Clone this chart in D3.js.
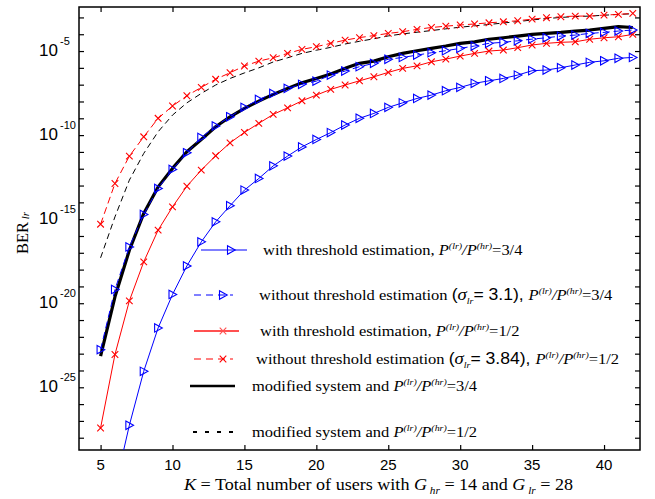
<!DOCTYPE html>
<html>
<head>
<meta charset="utf-8">
<script src="https://cdn.jsdelivr.net/npm/d3@7"></script>
<style>
  html, body { margin: 0; padding: 0; background: #fff; }
  svg { display: block; }
</style>
</head>
<body>
<svg id="chart" width="655" height="499"></svg>
<script>
// Number of users K (x-axis)
const users = d3.range(5, 43);

// log10(BER_lr) for each curve, one value per K = 5..42
const withThr34 = [-35.5, -31.0, -27.26, -24.05, -21.47, -19.48, -17.78, -16.35, -15.16, -14.2,
  -13.27, -12.58, -11.83, -11.25, -10.7, -10.26, -9.85, -9.4, -9.0, -8.71,
  -8.35, -8.08, -7.82, -7.62, -7.36, -7.16, -6.92, -6.77, -6.63, -6.43,
  -6.17, -6.13, -5.99, -5.83, -5.67, -5.58, -5.43, -5.38];
const withoutThr34 = [-22.76, -19.18, -16.65, -14.72, -13.17, -12.04, -11.05, -10.14, -9.46, -8.91,
  -8.35, -7.88, -7.52, -7.22, -6.98, -6.79, -6.43, -6.19, -5.93, -5.73,
  -5.49, -5.38, -5.24, -5.1, -4.98, -4.84, -4.7, -4.54, -4.48, -4.39,
  -4.29, -4.21, -4.11, -4.05, -3.95, -3.89, -3.81, -3.75];
const withThr12 = [-27.42, -23.05, -19.86, -17.54, -15.65, -14.27, -13.04, -12.08, -11.23, -10.46,
  -9.84, -9.3, -8.77, -8.38, -7.96, -7.62, -7.28, -7.02, -6.77, -6.53,
  -6.27, -6.03, -5.88, -5.64, -5.48, -5.3, -5.14, -5.0, -4.94, -4.8,
  -4.64, -4.54, -4.48, -4.45, -4.3, -4.21, -4.15, -4.01];
const withoutThr12 = [-15.3, -12.88, -11.25, -10.1, -9.0, -8.27, -7.66, -7.16, -6.68, -6.29,
  -5.89, -5.6, -5.4, -5.14, -4.9, -4.74, -4.54, -4.35, -4.2, -4.08,
  -3.95, -3.85, -3.71, -3.6, -3.52, -3.45, -3.39, -3.32, -3.26, -3.2,
  -3.1, -3.02, -2.96, -2.92, -2.92, -2.86, -2.82, -2.76];
const modified34 = [-23.15, -19.62, -16.85, -14.66, -13.08, -11.98, -10.99, -10.26, -9.5, -8.91,
  -8.41, -7.98, -7.58, -7.22, -6.89, -6.63, -6.37, -6.03, -5.73, -5.6,
  -5.34, -5.14, -4.98, -4.84, -4.7, -4.54, -4.45, -4.3, -4.21, -4.11,
  -4.01, -3.95, -3.89, -3.81, -3.75, -3.65, -3.55, -3.6];
const modified12 = [-17.3, -14.86, -12.68, -11.09, -9.8, -8.81, -8.08, -7.52, -7.02, -6.63,
  -6.3, -6.0, -5.65, -5.4, -5.14, -4.95, -4.78, -4.58, -4.42, -4.27,
  -4.1, -3.98, -3.88, -3.78, -3.68, -3.58, -3.5, -3.42, -3.33, -3.25,
  -3.15, -3.07, -3.0, -2.95, -2.92, -2.87, -2.82, -2.78];

// Axis ticks
const xTicks = [5, 10, 15, 20, 25, 30, 35, 40];
const yMinorExps = d3.range(-28, -2);
const yLabelExps = [-5, -10, -15, -20, -25];

const svg = d3.select("#chart");
const pLeft = 79, pRight = 640, pTop = 7, pBottom = 450;

const x = d3.scaleLinear().domain([3.5, 42.5]).range([pLeft, pRight]);
const y = d3.scaleLog().domain([Math.pow(10, -28.73), Math.pow(10, -2.38)]).range([pBottom, pTop]);

const SERIF = "'Liberation Serif', 'Times New Roman', serif";
const SANS = "'Liberation Sans', Arial, sans-serif";

svg.append("defs").append("clipPath").attr("id", "plotClip")
  .append("rect").attr("x", pLeft).attr("y", pTop).attr("width", pRight - pLeft).attr("height", pBottom - pTop);

// Frame with inward ticks
const tickLen = 5;
const axes = svg.append("g");
axes.append("g").attr("transform", `translate(0,${pBottom})`)
  .call(d3.axisBottom(x).tickValues(xTicks).tickSizeInner(-tickLen).tickSizeOuter(0).tickFormat(""));
axes.append("g").attr("transform", `translate(0,${pTop})`)
  .call(d3.axisTop(x).tickValues(xTicks).tickSizeInner(-tickLen).tickSizeOuter(0).tickFormat(""));
axes.append("g").attr("transform", `translate(${pLeft},0)`)
  .call(d3.axisLeft(y).tickValues(yMinorExps.map(e => Math.pow(10, e))).tickSizeInner(-tickLen).tickSizeOuter(0).tickFormat(""));
axes.append("g").attr("transform", `translate(${pRight},0)`)
  .call(d3.axisRight(y).tickValues(yMinorExps.map(e => Math.pow(10, e))).tickSizeInner(-tickLen).tickSizeOuter(0).tickFormat(""));
axes.selectAll(".domain").remove();
axes.selectAll("line").attr("stroke", "#000").attr("stroke-width", 1.2);
svg.append("rect").attr("x", pLeft).attr("y", pTop).attr("width", pRight - pLeft).attr("height", pBottom - pTop)
  .attr("fill", "none").attr("stroke", "#000").attr("stroke-width", 1.5);

// Tick labels
svg.append("g").selectAll("text").data(xTicks).join("text")
  .attr("x", d => x(d)).attr("y", 470)
  .attr("text-anchor", "middle").attr("font-family", SANS).attr("font-size", 15)
  .text(d => d);

const yl = svg.append("g").selectAll("g").data(yLabelExps).join("g")
  .attr("transform", d => `translate(58,${y(Math.pow(10, d)) + 5})`);
yl.append("text").attr("text-anchor", "end").attr("font-family", SANS).attr("font-size", 17).text("10");
yl.append("text").attr("x", 2).attr("y", -11).attr("font-family", SANS).attr("font-size", 11).text(d => d);

// Axis titles (slightly widened serif lettering)
const xt = svg.append("g").attr("transform", "translate(378.5,490) scale(1.13,1)")
  .append("text").attr("text-anchor", "middle")
  .attr("font-family", SERIF).attr("font-size", 16);
xt.append("tspan").attr("font-style", "italic").text("K");
xt.append("tspan").text(" = Total number of users with ");
xt.append("tspan").attr("font-style", "italic").text("G");
xt.append("tspan").attr("font-style", "italic").attr("font-size", 10).attr("dy", 4).text(" hr");
xt.append("tspan").attr("dy", -4).text(" = 14 and ");
xt.append("tspan").attr("font-style", "italic").text("G");
xt.append("tspan").attr("font-style", "italic").attr("font-size", 10).attr("dy", 4).text(" lr");
xt.append("tspan").attr("dy", -4).text(" = 28");

const yt = svg.append("text").attr("transform", "translate(28,233) rotate(-90)")
  .attr("text-anchor", "middle").attr("font-family", SERIF).attr("font-size", 16.5);
yt.append("tspan").text("BER");
yt.append("tspan").attr("font-style", "italic").attr("font-size", 11).attr("dy", 1).text(" lr");

// Curves
const line = d3.line().x(d => x(d.k)).y(d => y(Math.pow(10, d.v)));
const plot = svg.append("g").attr("clip-path", "url(#plotClip)");

const triPath = "M-3.5,-4.2L4.2,0L-3.5,4.2Z";
const crossPath = "M-3.3,-3.3L3.3,3.3M-3.3,3.3L3.3,-3.3";

const series = [
  { vals: modified12, color: "#000", width: 1, dash: "6,4", marker: null },
  { vals: withoutThr12, color: "#f00", width: 1, dash: "7,4", marker: crossPath },
  { vals: withThr12, color: "#f00", width: 1, dash: null, marker: crossPath },
  { vals: withThr34, color: "#00f", width: 1, dash: null, marker: triPath },
  { vals: modified34, color: "#000", width: 3.2, dash: null, marker: null },
  { vals: withoutThr34, color: "#00f", width: 1, dash: "7,4", marker: triPath }
];

series.forEach(s => {
  const pts = users.map((k, i) => ({ k, v: s.vals[i] }));
  plot.append("path").datum(pts).attr("d", line)
    .attr("fill", "none").attr("stroke", s.color).attr("stroke-width", s.width)
    .attr("stroke-dasharray", s.dash).attr("stroke-linejoin", "round");
  if (s.marker) {
    plot.append("g").selectAll("path").data(pts).join("path")
      .attr("transform", d => `translate(${x(d.k)},${y(Math.pow(10, d.v))})`)
      .attr("d", s.marker).attr("fill", "none").attr("stroke", s.color).attr("stroke-width", 1.1);
  }
});

// Legend
const legend = svg.append("g");
function ratio(t, value) {
  t.append("tspan").attr("font-style", "italic").text("P");
  t.append("tspan").attr("font-style", "italic").attr("font-size", 9).attr("dy", -6).text("(lr)");
  t.append("tspan").attr("dy", 6).attr("font-style", "italic").text("/P");
  t.append("tspan").attr("font-style", "italic").attr("font-size", 9).attr("dy", -6).text("(hr)");
  t.append("tspan").attr("dy", 6).text("=" + value);
}
function sigma(t, value) {
  t.append("tspan").attr("font-family", SANS).attr("font-size", 16).text("(");
  t.append("tspan").attr("font-family", SERIF).attr("font-style", "italic").attr("font-size", 17).text("σ");
  t.append("tspan").attr("font-family", SERIF).attr("font-style", "italic").attr("font-size", 9).attr("dy", 4).text("lr");
  t.append("tspan").attr("font-family", SANS).attr("font-size", 16).attr("dy", -4).text("= " + value + "), ");
}
const entries = [
  { y: 250, x1: 201, x2: 247, mx: 231, color: "#00f", width: 1, dash: null, marker: triPath, tx: 263,
    build: t => { t.append("tspan").text("with threshold estimation, "); ratio(t, "3/4"); } },
  { y: 295, x1: 194, x2: 233, mx: 223, color: "#00f", width: 1, dash: "7,5", marker: triPath, tx: 259,
    build: t => { t.append("tspan").text("without threshold estimation "); sigma(t, "3.1"); ratio(t, "3/4"); } },
  { y: 331, x1: 194, x2: 239, mx: 223, color: "#ff5050", width: 2, dash: null, marker: crossPath, tx: 260,
    build: t => { t.append("tspan").text("with threshold estimation, "); ratio(t, "1/2"); } },
  { y: 359, x1: 194, x2: 233, mx: 223, color: "#f00", width: 1, dash: "7,5", marker: crossPath, tx: 256,
    build: t => { t.append("tspan").text("without threshold estimation "); sigma(t, "3.84"); ratio(t, "1/2"); } },
  { y: 386, x1: 190, x2: 235, mx: null, color: "#000", width: 2.5, dash: null, marker: null, tx: 252,
    build: t => { t.append("tspan").text("modified system and "); ratio(t, "3/4"); } },
  { y: 432, x1: 193, x2: 234, mx: null, color: "#000", width: 2.2, dash: "4,8", marker: null, tx: 252,
    build: t => { t.append("tspan").text("modified system and "); ratio(t, "1/2"); } }
];
entries.forEach(e => {
  legend.append("line").attr("x1", e.x1).attr("x2", e.x2).attr("y1", e.y).attr("y2", e.y)
    .attr("stroke", e.color).attr("stroke-width", e.width).attr("stroke-dasharray", e.dash);
  if (e.marker) {
    legend.append("path").attr("transform", `translate(${e.mx},${e.y})`).attr("d", e.marker)
      .attr("fill", "none").attr("stroke", e.color).attr("stroke-width", 1.1);
  }
  const t = legend.append("g").attr("transform", `translate(${e.tx},${e.y + 5}) scale(1.1,1)`)
    .append("text").attr("font-family", SERIF).attr("font-size", 15);
  e.build(t);
});
</script>
</body>
</html>
